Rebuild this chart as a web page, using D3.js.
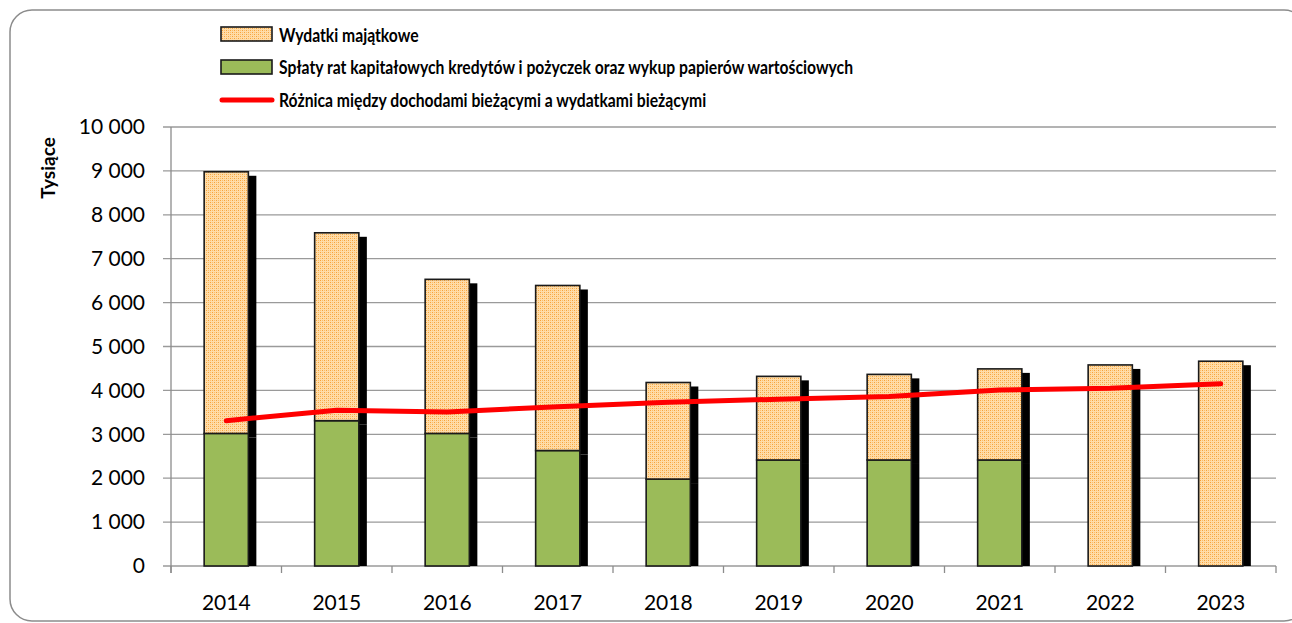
<!DOCTYPE html>
<html>
<head>
<meta charset="utf-8">
<script src="https://cdn.jsdelivr.net/npm/d3@7"></script>
<style>
  body { margin: 0; background: #fff; }
  svg { display: block; }
  .tick text { font-family: Lato, "Open Sans", sans-serif; fill: #000; }
</style>
</head>
<body>
<div id="chart"></div>
<script>
const years = ['2014', '2015', '2016', '2017', '2018', '2019', '2020', '2021', '2022', '2023']
// Spłaty rat kapitałowych kredytów i pożyczek oraz wykup papierów wartościowych
const splaty = [3020, 3310, 3020, 2630, 1980, 2415, 2415, 2415, 0, 0]
// Wydatki majątkowe (stacked above)
const wydatki = [5960, 4280, 3510, 3760, 2200, 1905, 1950, 2075, 4580, 4665]
// Różnica między dochodami bieżącymi a wydatkami bieżącymi
const roznica = [3310, 3550, 3510, 3630, 3730, 3800, 3860, 4010, 4050, 4150]
const yTicks = [0, 1000, 2000, 3000, 4000, 5000, 6000, 7000, 8000, 9000, 10000]
const legendLabels = [
    'Wydatki majątkowe',
    'Spłaty rat kapitałowych kredytów i pożyczek oraz wykup papierów wartościowych',
    'Różnica między dochodami bieżącymi a wydatkami bieżącymi'
]

const width = 1292, height = 623
const plotLeft = 171, plotRight = 1276, plotTop = 127, plotBottom = 566

const svg = d3.select('#chart').append('svg').attr('width', width).attr('height', height)
const defs = svg.append('defs')

// dotted orange fill
const pat = defs.append('pattern').attr('id', 'dots')
    .attr('patternUnits', 'userSpaceOnUse').attr('width', 4).attr('height', 4)
pat.append('rect').attr('width', 4).attr('height', 4).attr('fill', '#ffdca8')
pat.append('rect').attr('x', 0).attr('y', 0).attr('width', 1).attr('height', 1).attr('fill', '#f7a23a')
pat.append('rect').attr('x', 2).attr('y', 2).attr('width', 1).attr('height', 1).attr('fill', '#f7a23a')
pat.append('rect').attr('x', 2).attr('y', 0).attr('width', 1).attr('height', 1).attr('fill', '#fbbf6a')
pat.append('rect').attr('x', 0).attr('y', 2).attr('width', 1).attr('height', 1).attr('fill', '#fbbf6a')

defs.append('clipPath').attr('id', 'plotclip')
    .append('rect').attr('x', plotLeft).attr('y', 0).attr('width', plotRight - plotLeft + 20).attr('height', plotBottom)

// chart frame
svg.append('rect').attr('x', 10).attr('y', 10).attr('width', 1296).attr('height', 611)
    .attr('rx', 22).attr('fill', 'none').attr('stroke', '#8c8c8c').attr('stroke-width', 1.5)

const x = d3.scaleBand().domain(years).range([plotLeft, plotRight]).paddingInner(0.6).paddingOuter(0.3)
const y = d3.scaleLinear().domain([0, 10000]).range([plotBottom, plotTop])
const step = x.step()

// gridlines
svg.append('g').selectAll('line').data(yTicks).enter().append('line')
    .attr('x1', plotLeft - 8).attr('x2', plotRight)
    .attr('y1', d => y(d)).attr('y2', d => y(d))
    .attr('stroke', '#9a9a9a').attr('stroke-width', 1.3)

// y axis labels
const yAxis = d3.axisLeft(y).tickValues(yTicks).tickSize(0).tickPadding(26)
    .tickFormat(d => d3.format(',')(d).replace(/,/g, ' '))
svg.append('g').attr('transform', `translate(${plotLeft},0)`).call(yAxis)
    .call(g => g.select('.domain').remove())
    .selectAll('text').attr('font-size', 21)

svg.append('line').attr('x1', plotLeft).attr('x2', plotLeft).attr('y1', plotTop).attr('y2', plotBottom + 7)
    .attr('stroke', '#8c8c8c').attr('stroke-width', 1.3)

// x axis boundary ticks
const bounds = years.map(d => x(d) - step * 0.3).concat([plotRight])
svg.append('g').selectAll('line').data(bounds).enter().append('line')
    .attr('x1', d => d).attr('x2', d => d).attr('y1', plotBottom).attr('y2', plotBottom + 7)
    .attr('stroke', '#8c8c8c').attr('stroke-width', 1.3)

const xAxis = d3.axisBottom(x).tickSize(0).tickPadding(29)
svg.append('g').attr('transform', `translate(0,${plotBottom})`).call(xAxis)
    .call(g => g.select('.domain').remove())
    .selectAll('text').attr('font-size', 21)

// axis title
svg.append('text').attr('transform', 'translate(55,168) rotate(-90)')
    .attr('text-anchor', 'middle').attr('font-family', 'Lato, sans-serif')
    .attr('font-weight', 'bold').attr('font-size', 19).text('Tysiące')

// stacked segments
const segs = []
years.forEach((yr, i) => {
    if (splaty[i] > 0) segs.push({ yr, y0: 0, y1: splaty[i], fill: '#9bbb59' })
    segs.push({ yr, y0: splaty[i], y1: splaty[i] + wydatki[i], fill: 'url(#dots)' })
})

// shadows
svg.append('g').attr('clip-path', 'url(#plotclip)').selectAll('rect').data(segs).enter().append('rect')
    .attr('x', d => x(d.yr) + 8).attr('y', d => y(d.y1) + 4)
    .attr('width', x.bandwidth()).attr('height', d => y(d.y0) - y(d.y1))
    .attr('fill', '#000')

svg.append('g').selectAll('rect').data(segs).enter().append('rect')
    .attr('x', d => x(d.yr)).attr('y', d => y(d.y1))
    .attr('width', x.bandwidth()).attr('height', d => y(d.y0) - y(d.y1))
    .attr('fill', d => d.fill).attr('stroke', '#1a1a1a').attr('stroke-width', 1.6)

// line
const line = d3.line().x((d, i) => x(years[i]) + x.bandwidth() / 2).y(d => y(d))
svg.append('path').datum(roznica).attr('d', line)
    .attr('fill', 'none').attr('stroke', '#ff0000').attr('stroke-width', 5)
    .attr('stroke-linecap', 'round').attr('stroke-linejoin', 'round')

// legend
const legend = svg.append('g')
const rowsY = [35, 67, 100]
legend.append('rect').attr('x', 221).attr('y', 27).attr('width', 51).attr('height', 14)
    .attr('fill', 'url(#dots)').attr('stroke', '#1a1a1a').attr('stroke-width', 1.6)
legend.append('rect').attr('x', 221).attr('y', 60).attr('width', 51).attr('height', 14)
    .attr('fill', '#9bbb59').attr('stroke', '#1a1a1a').attr('stroke-width', 1.6)
legend.append('line').attr('x1', 222).attr('x2', 272).attr('y1', 100).attr('y2', 100)
    .attr('stroke', '#ff0000').attr('stroke-width', 5).attr('stroke-linecap', 'round')

const labels = legend.selectAll('text').data(legendLabels).enter().append('text')
    .attr('x', 279).attr('y', (d, i) => rowsY[i])
    .attr('dominant-baseline', 'central')
    .attr('font-family', 'Lato, sans-serif').attr('font-weight', 'bold')
    .attr('font-size', 18).text(d => d)
// squeeze rows a bit so the long one ends where it does in the picture
const k = 574 / labels.nodes()[1].getComputedTextLength()
labels.each(function () {
    const len = this.getComputedTextLength()
    d3.select(this).attr('textLength', len * k).attr('lengthAdjust', 'spacingAndGlyphs')
})
</script>
</body>
</html>
